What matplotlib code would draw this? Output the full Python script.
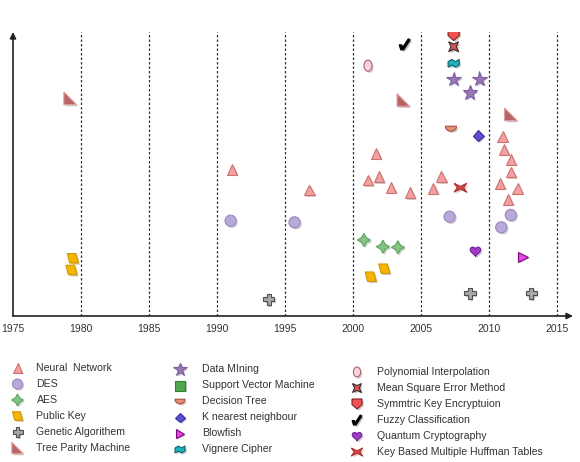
import numpy as np
import matplotlib
matplotlib.use('Agg')
import matplotlib.pyplot as plt
import matplotlib.patheffects as pe

plt.rcParams['font.family'] = ['Liberation Sans', 'DejaVu Sans']

# ---- data: (year, relative height) for each technique ----
nn_x = [1991.1, 1996.8, 2001.7, 2001.1, 2001.9, 2002.8, 2004.2, 2006.5, 2005.9,
        2011.0, 2011.1, 2011.6, 2011.6, 2010.8, 2012.1, 2011.4]
nn_y = [146.7, 126, 162.7, 136, 139.3, 128.7, 123.3, 139.3, 127.7,
        179.5, 166.7, 156.7, 144, 132.7, 127.7, 116.7]
des_x = [1991.0, 1995.7, 2007.1, 2011.6, 2010.9]
des_y = [95.3, 93.7, 99.3, 101, 88.7]
aes_x = [2000.8, 2002.2, 2003.3]
aes_y = [76, 69.3, 68.7]
pk_x = [1979.4, 1979.3, 2001.3, 2002.3]
pk_y = [57.7, 46, 39.3, 47.3]
ga_x = [1993.8, 2008.6, 2013.1]
ga_y = [16.7, 22.7, 22.7]
tpm_x = [1979.2, 2003.7, 2011.6]
tpm_y = [217.7, 216, 201.7]
dm_x = [2007.4, 2009.3, 2008.6]
dm_y = [236.7, 237, 223.3]
svm_x, svm_y = [], []
dt_x, dt_y = [2007.2], [187.3]
knn_x, knn_y = [2009.2], [180.2]
bf_x, bf_y = [2012.5], [59.3]
vc_x, vc_y = [2007.4], [252.7]
poly_x, poly_y = [2001.1], [250.3]
mse_x, mse_y = [2007.4], [269.3]
ske_x, ske_y = [2007.4], [281]
fz_x, fz_y = [2003.8], [271.7]
qc_x, qc_y = [2009.0], [65]
hf_x, hf_y = [2007.9], [128.3]

years = [1975, 1980, 1985, 1990, 1995, 2000, 2005, 2010, 2015]

# ---- custom marker shapes ----
t = np.linspace(0, 2 * np.pi, 40)
t_half = np.linspace(np.pi, 2 * np.pi, 20)
parallelogram = [(-0.55, -0.85), (1, -0.85), (0.55, 0.85), (-1, 0.85), (-0.55, -0.85)]
right_tri = [(-1, 1), (-1, -1), (1, -1), (-1, 1)]
bowl = [(-1, 0.45)] + list(zip(np.cos(t_half), 0.45 + 0.9 * np.sin(t_half))) + [(1, 0.45), (-1, 0.45)]
shield = [(-1, 1), (1, 1), (1, -0.1), (0, -1), (-1, -0.1), (-1, 1)]
pinched = [(-1, 1), (0, 0.55), (1, 1), (0.55, 0), (1, -1), (0, -0.55), (-1, -1), (-0.55, 0), (-1, 1)]
bowtie = [(-1, 0.7), (0, 0.2), (1, 0.7), (0.5, 0), (1, -0.7), (0, -0.2), (-1, -0.7), (-0.5, 0), (-1, 0.7)]
check = [(-1, -0.1), (-0.55, -0.1), (-0.3, -0.45), (0.65, 1), (1, 0.8), (-0.2, -1), (-0.7, -1), (-1, -0.1)]
heart = list(zip(16 * np.sin(t) ** 3 / 16,
                 (13 * np.cos(t) - 5 * np.cos(2 * t) - 2 * np.cos(3 * t) - np.cos(4 * t)) / 16))
flag = [(-1, -0.7), (-0.3, -0.3), (0.3, -0.7), (1, -0.3), (1, 0.7), (0.3, 0.3), (-0.3, 0.7), (-1, 0.3), (-1, -0.7)]
oval = list(zip(0.72 * np.cos(t), np.sin(t)))

series = [
    ('Neural  Network', nn_x, nn_y, '^', '#F2A0A0', '#D07070', 7.5),
    ('DES', des_x, des_y, 'o', '#B9A9D9', '#9A88C2', 8),
    ('AES', aes_x, aes_y, (4, 1, 0), '#86C486', '#5FA55F', 9.5),
    ('Public Key', pk_x, pk_y, parallelogram, '#F5B500', '#D39600', 8),
    ('Genetic Algorithem', ga_x, ga_y, 'P', '#A8A8A8', '#4F4F4F', 8),
    ('Tree Parity Machine', tpm_x, tpm_y, right_tri, '#B86464', '#E09A9A', 9),
    ('Data MIning', dm_x, dm_y, '*', '#9A78B8', '#7E5EA2', 11),
    ('Support Vector Machine', svm_x, svm_y, 's', '#4FA84F', '#2F7F35', 8),
    ('Decision Tree', dt_x, dt_y, bowl, '#E39070', '#A65040', 8),
    ('K nearest neighbour', knn_x, knn_y, 'D', '#5A4FCF', '#3A30A0', 5.5),
    ('Blowfish', bf_x, bf_y, '>', '#E844E8', '#7A0A7A', 7),
    ('Vignere Cipher', vc_x, vc_y, flag, '#22B2BA', '#106070', 8),
    ('Polynomial Interpolation', poly_x, poly_y, oval, '#F9D2DA', '#B06070', 8),
    ('Mean Square Error Method', mse_x, mse_y, pinched, '#E25050', '#303030', 7),
    ('Symmtric Key Encryptuion', ske_x, ske_y, shield, '#F25252', '#802020', 8),
    ('Fuzzy Classification', fz_x, fz_y, check, '#000000', '#000000', 8),
    ('Quantum Cryptography', qc_x, qc_y, heart, '#A040C0', '#7020A0', 8),
    ('Key Based Multiple Huffman Tables', hf_x, hf_y, bowtie, '#D84848', '#B03030', 9),
]

shadow = [pe.SimplePatchShadow(offset=(1.2, -1.2), alpha=0.25), pe.Normal()]

W, H = 580, 462
fig = plt.figure(figsize=(W / 100, H / 100), dpi=100)
ax = fig.add_axes([13 / W, (H - 316) / H, (573 - 13) / W, (316 - 32) / H])

for name, xs, ys, mk, fc, ec, ms in series:
    ax.plot(xs, ys, linestyle='none', marker=mk, markersize=ms, markerfacecolor=fc,
            markeredgecolor=ec, markeredgewidth=0.8, path_effects=shadow, zorder=3)

for yr in years[1:]:
    ax.axvline(yr, color='#333333', linestyle=(0, (2, 1.6)), linewidth=0.9, zorder=1)

ax.set_xlim(1975, 1975 + (573 - 13) / 13.6)
ax.set_ylim(0, 284)
for s in ax.spines.values():
    s.set_visible(False)
ax.annotate('', xy=(1, 0), xytext=(0, 0), xycoords='axes fraction',
            arrowprops=dict(arrowstyle='-|>', lw=1.2, color='#222222', mutation_scale=9, shrinkA=0, shrinkB=0))
ax.annotate('', xy=(0, 1), xytext=(0, 0), xycoords='axes fraction',
            arrowprops=dict(arrowstyle='-|>', lw=1.2, color='#222222', mutation_scale=9, shrinkA=0, shrinkB=0))
ax.set_xticks(years)
ax.set_xticklabels([str(y) for y in years])
ax.tick_params(axis='x', length=0, pad=6, labelsize=7.5, labelcolor='#333333')
ax.set_yticks([])

# ---- legend in three columns ----
lax = fig.add_axes([0, 0, 1, 1])
lax.set_xlim(0, W)
lax.set_ylim(H, 0)
lax.axis('off')
cols = [(17.5, 36.5, 368), (180, 202.5, 369.5), (357, 377, 372)]
for i, (name, xs, ys, mk, fc, ec, ms) in enumerate(series):
    mx, tx, y0 = cols[i // 6]
    y = y0 + 16 * (i % 6)
    lax.plot([mx], [y], linestyle='none', marker=mk, markersize=ms * 0.9, markerfacecolor=fc,
             markeredgecolor=ec, markeredgewidth=0.8, path_effects=shadow)
    lax.text(tx, y, name, fontsize=7.6, color='#333333', va='center', ha='left')

fig.savefig('out.png', dpi=100)
